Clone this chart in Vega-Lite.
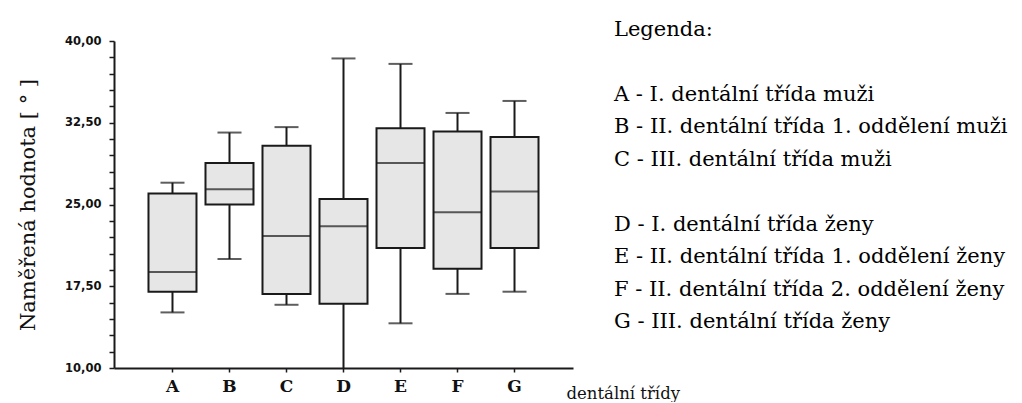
{
  "$schema": "https://vega.github.io/schema/vega-lite/v6.json",
  "background": "white",
  "padding": {"left": 17, "top": 19, "right": 0, "bottom": 0},
  "bounds": "flush",
  "spacing": 41,
  "config": {
    "view": {"stroke": null},
    "axis": {"grid": false, "domainColor": "#1a1a1a", "domainWidth": 2, "tickColor": "#1a1a1a", "tickWidth": 1.5, "labelColor": "#111", "titleColor": "#111"},
    "axisY": {
      "titleFont": "DejaVu Serif",
      "titleFontSize": 21,
      "titleFontWeight": "normal",
      "titleX": -76,
      "titleBaseline": "bottom",
      "labelOverlap": false,
      "labelFont": "DejaVu Sans",
      "labelFontWeight": "bold",
      "labelFontSize": 11.5,
      "labelPadding": 8,
      "tickSize": 5
    }
  },
  "hconcat": [
    {
      "width": 459,
      "height": 327,
      "data": {
        "values": [
          {"trida": "A", "min": 15.1, "q1": 17.0, "median": 18.8, "q3": 26.0, "max": 27.0},
          {"trida": "B", "min": 20.0, "q1": 25.0, "median": 26.4, "q3": 28.8, "max": 31.6},
          {"trida": "C", "min": 15.8, "q1": 16.8, "median": 22.1, "q3": 30.4, "max": 32.1},
          {"trida": "D", "min": 8.5, "q1": 15.9, "median": 23.0, "q3": 25.5, "max": 38.4},
          {"trida": "E", "min": 14.1, "q1": 21.0, "median": 28.8, "q3": 32.0, "max": 37.9},
          {"trida": "F", "min": 16.8, "q1": 19.1, "median": 24.3, "q3": 31.7, "max": 33.4},
          {"trida": "G", "min": 17.0, "q1": 21.0, "median": 26.2, "q3": 31.2, "max": 34.5}
        ]
      },
      "encoding": {
        "x": {
          "field": "trida",
          "type": "nominal",
          "scale": {"type": "band", "paddingInner": 0, "paddingOuter": 0.526},
          "axis": {
            "title": "dentální třídy",
            "titleFont": "DejaVu Serif",
            "titleFontSize": 16.5,
            "titleFontWeight": "normal",
            "titleX": 452,
            "titleY": 30,
            "titleAlign": "left",
            "titleAnchor": "start",
            "titleBaseline": "alphabetic",
            "labelAngle": 0,
            "labelFont": "DejaVu Serif",
            "labelFontWeight": "bold",
            "labelFontSize": 17,
            "labelPadding": 6,
            "tickSize": 4
          }
        }
      },
      "layer": [
        {
          "mark": {"type": "rule", "stroke": "#1a1a1a", "strokeWidth": 2, "clip": true},
          "encoding": {
            "y": {
              "field": "min",
              "type": "quantitative",
              "scale": {"domain": [10, 40], "nice": false, "zero": false},
              "axis": {
                "title": "Naměřená hodnota [ ° ]",
                "values": [10, 11.5, 13, 14.5, 16, 17.5, 19, 20.5, 22, 23.5, 25, 26.5, 28, 29.5, 31, 32.5, 34, 35.5, 37, 38.5, 40],
                "labelExpr": "(datum.value - 10) % 7.5 == 0 ? replace(format(datum.value, '.2f'), '.', ',') : ''"
              }
            },
            "y2": {"field": "max"}
          }
        },
        {
          "mark": {"type": "tick", "color": "#1a1a1a", "size": 24, "thickness": 2, "clip": true},
          "encoding": {
            "y": {
              "field": "min",
              "type": "quantitative",
              "axis": {
                "title": "Naměřená hodnota [ ° ]",
                "values": [10, 11.5, 13, 14.5, 16, 17.5, 19, 20.5, 22, 23.5, 25, 26.5, 28, 29.5, 31, 32.5, 34, 35.5, 37, 38.5, 40],
                "labelExpr": "(datum.value - 10) % 7.5 == 0 ? replace(format(datum.value, '.2f'), '.', ',') : ''"
              }
            }
          }
        },
        {
          "mark": {"type": "tick", "color": "#1a1a1a", "size": 24, "thickness": 2},
          "encoding": {
            "y": {
              "field": "max",
              "type": "quantitative",
              "axis": {
                "title": "Naměřená hodnota [ ° ]",
                "values": [10, 11.5, 13, 14.5, 16, 17.5, 19, 20.5, 22, 23.5, 25, 26.5, 28, 29.5, 31, 32.5, 34, 35.5, 37, 38.5, 40],
                "labelExpr": "(datum.value - 10) % 7.5 == 0 ? replace(format(datum.value, '.2f'), '.', ',') : ''"
              }
            }
          }
        },
        {
          "mark": {"type": "bar", "size": 48, "fill": "#e6e6e6", "stroke": "#1a1a1a", "strokeWidth": 2},
          "encoding": {
            "y": {
              "field": "q1",
              "type": "quantitative",
              "axis": {
                "title": "Naměřená hodnota [ ° ]",
                "values": [10, 11.5, 13, 14.5, 16, 17.5, 19, 20.5, 22, 23.5, 25, 26.5, 28, 29.5, 31, 32.5, 34, 35.5, 37, 38.5, 40],
                "labelExpr": "(datum.value - 10) % 7.5 == 0 ? replace(format(datum.value, '.2f'), '.', ',') : ''"
              }
            },
            "y2": {"field": "q3"}
          }
        },
        {
          "mark": {"type": "tick", "color": "#1a1a1a", "size": 48, "thickness": 2},
          "encoding": {
            "y": {
              "field": "median",
              "type": "quantitative",
              "axis": {
                "title": "Naměřená hodnota [ ° ]",
                "values": [10, 11.5, 13, 14.5, 16, 17.5, 19, 20.5, 22, 23.5, 25, 26.5, 28, 29.5, 31, 32.5, 34, 35.5, 37, 38.5, 40],
                "labelExpr": "(datum.value - 10) % 7.5 == 0 ? replace(format(datum.value, '.2f'), '.', ',') : ''"
              }
            }
          }
        }
      ]
    },
    {
      "width": 390,
      "height": 287,
      "data": {
        "values": [
          {"radek": 0, "text": "Legenda:"},
          {"radek": 2, "text": "A - I. dentální třída muži"},
          {"radek": 3, "text": "B - II. dentální třída 1. oddělení muži"},
          {"radek": 4, "text": "C - III. dentální třída muži"},
          {"radek": 6, "text": "D - I. dentální třída ženy"},
          {"radek": 7, "text": "E - II. dentální třída 1. oddělení ženy"},
          {"radek": 8, "text": "F - II. dentální třída 2. oddělení ženy"},
          {"radek": 9, "text": "G - III. dentální třída ženy"}
        ]
      },
      "mark": {"type": "text", "align": "left", "baseline": "alphabetic", "font": "DejaVu Serif", "fontSize": 21, "color": "#000"},
      "encoding": {
        "x": {"value": 0},
        "y": {"field": "radek", "type": "quantitative", "scale": {"domain": [0.154, 9], "nice": false, "zero": false, "reverse": true}, "axis": null},
        "text": {"field": "text"}
      }
    }
  ]
}
